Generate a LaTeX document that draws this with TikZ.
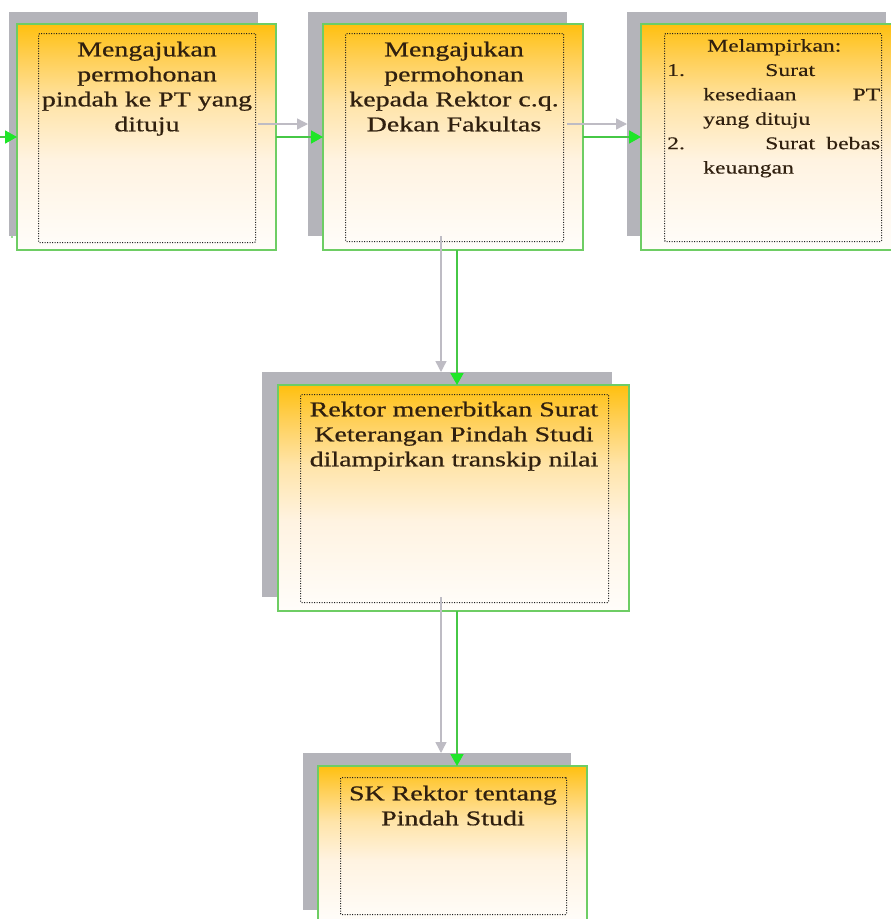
\documentclass[tikz,border=0pt]{standalone}
\usepackage{fontspec}
\setmainfont{Liberation Serif}[FakeStretch=1.33,FakeBold=0.7]
\newfontfamily\listfont{Liberation Serif}[FakeStretch=1.33,FakeBold=0.3]
\usetikzlibrary{arrows.meta}
\definecolor{shadowgray}{RGB}{180,180,186}
\definecolor{boxgreen}{RGB}{110,205,100}
\definecolor{linegreen}{RGB}{70,200,70}
\definecolor{tipgreen}{RGB}{30,230,40}
\definecolor{linegray}{RGB}{190,188,196}
\definecolor{txtcol}{RGB}{48,32,15}
\definecolor{dotcol}{RGB}{30,30,30}
\definecolor{shD}{RGB}{255,192,15}
\definecolor{shC}{RGB}{255,207,85}
\definecolor{shB}{RGB}{255,228,168}
\definecolor{shA}{RGB}{255,243,225}
\definecolor{shW}{RGB}{255,253,250}
\pgfdeclareverticalshading{boxshade}{100bp}{color(0bp)=(shW); color(25bp)=(shW); color(45bp)=(shA); color(57.5bp)=(shB); color(67.5bp)=(shC); color(75bp)=(shD); color(100bp)=(shD)}
\tikzset{
  shadowbox/.style={draw=none, fill=shadowgray, inner sep=0pt, outer sep=0pt, anchor=north west},
  mainbox/.style={draw=boxgreen, line width=1.6pt, shading=boxshade, inner sep=0pt, outer sep=0pt, anchor=north west},
  dotbox/.style={draw=dotcol, line width=1.1pt, dash pattern=on 0.9pt off 1.6pt, inner sep=0pt, anchor=north west, rounded corners=1pt},
  boxtext/.style={inner sep=0pt, anchor=north, align=center, text=txtcol, font=\fontsize{21pt}{25pt}\selectfont},
  listtext/.style={inner sep=0pt, anchor=north west, align=left, text=txtcol, font=\listfont\fontsize{17.8pt}{24.4pt}\selectfont},
  grayarrow/.style={draw=linegray, line width=1.4pt, -{Triangle[length=11pt,width=11pt,color=linegray]}},
  greenarrow/.style={draw=linegreen, line width=1.8pt, -{Triangle[length=12pt,width=13pt,color=tipgreen]}}
}
\begin{document}
\begin{tikzpicture}[x=1pt,y=-1pt]
\useasboundingbox (0,0) rectangle (891,919);
\clip (0,0) rectangle (891,919);
\fill[white] (0,0) rectangle (891,919);

% edge of a box outside the picture
\draw[boxgreen!70, line width=1.5pt] (12,22) -- (12,238);

% shadows
\node[shadowbox, minimum width=249pt, minimum height=224pt] (s1) at (9,12) {};
\node[shadowbox, minimum width=259pt, minimum height=224pt] (s2) at (308,12) {};
\node[shadowbox, minimum width=259pt, minimum height=224pt] (s3) at (627,12) {};
\node[shadowbox, minimum width=350pt, minimum height=225pt] (s4) at (262,372) {};
\node[shadowbox, minimum width=268pt, minimum height=157pt] (s5) at (303,753) {};

% main boxes
\node[mainbox, minimum width=259pt, minimum height=226pt] (b1) at (17,24) {};
\node[mainbox, minimum width=260pt, minimum height=226pt] (b2) at (323,24) {};
\node[mainbox, minimum width=260pt, minimum height=226pt] (b3) at (641,24) {};
\node[mainbox, minimum width=351pt, minimum height=226pt] (b4) at (278,385) {};
\node[mainbox, minimum width=269pt, minimum height=157pt] (b5) at (318,766) {};

% dotted inner frames
\node[dotbox, minimum width=217pt, minimum height=209pt] (d1) at (38,33) {};
\node[dotbox, minimum width=218pt, minimum height=208pt] (d2) at (345,33) {};
\node[dotbox, minimum width=217pt, minimum height=208pt] (d3) at (664,33) {};
\node[dotbox, minimum width=308pt, minimum height=208pt] (d4) at (300,394) {};
\node[dotbox, minimum width=226pt, minimum height=137pt] (d5) at (340,777) {};

% texts
\node[boxtext] (t1) at (147,41.5) {Mengajukan\\permohonan\\pindah ke PT yang\\dituju};
\node[boxtext] (t2) at (454,41.5) {Mengajukan\\permohonan\\kepada Rektor c.q.\\Dekan Fakultas};
\node[listtext] (t3) at (667,39) {\hspace*{40pt}Melampirkan:\\
\makebox[98pt][l]{1.}Surat\\
\makebox[213pt][l]{\hspace*{36pt}kesediaan\hfill PT}\\
\hspace*{36pt}yang dituju\\
\makebox[213pt][l]{\makebox[98pt][l]{2.}Surat\hfill bebas}\\
\hspace*{36pt}keuangan};
\node[boxtext] (t4) at (454,401.5) {Rektor menerbitkan Surat\\Keterangan Pindah Studi\\dilampirkan transkip nilai};
\node[boxtext] (t5) at (453,785.5) {SK Rektor tentang\\Pindah Studi};

% connectors
\coordinate (in0) at (0,137);
\coordinate (vg) at (441,0);
\coordinate (vx) at (457,0);
\draw[greenarrow] (in0) -- (b1.west);
\draw[grayarrow] (s1.east) -- (s2.west);
\draw[greenarrow] (b1.east) -- (b2.west);
\draw[grayarrow] (s2.east) -- (s3.west);
\draw[greenarrow] (b2.east) -- (b3.west);
\draw[grayarrow] (s2.south -| vg) -- (s4.north -| vg);
\draw[greenarrow] (b2.south -| vx) -- (b4.north -| vx);
\draw[grayarrow] (s4.south -| vg) -- (s5.north -| vg);
\draw[greenarrow] (b4.south -| vx) -- (b5.north -| vx);
\end{tikzpicture}
\end{document}
